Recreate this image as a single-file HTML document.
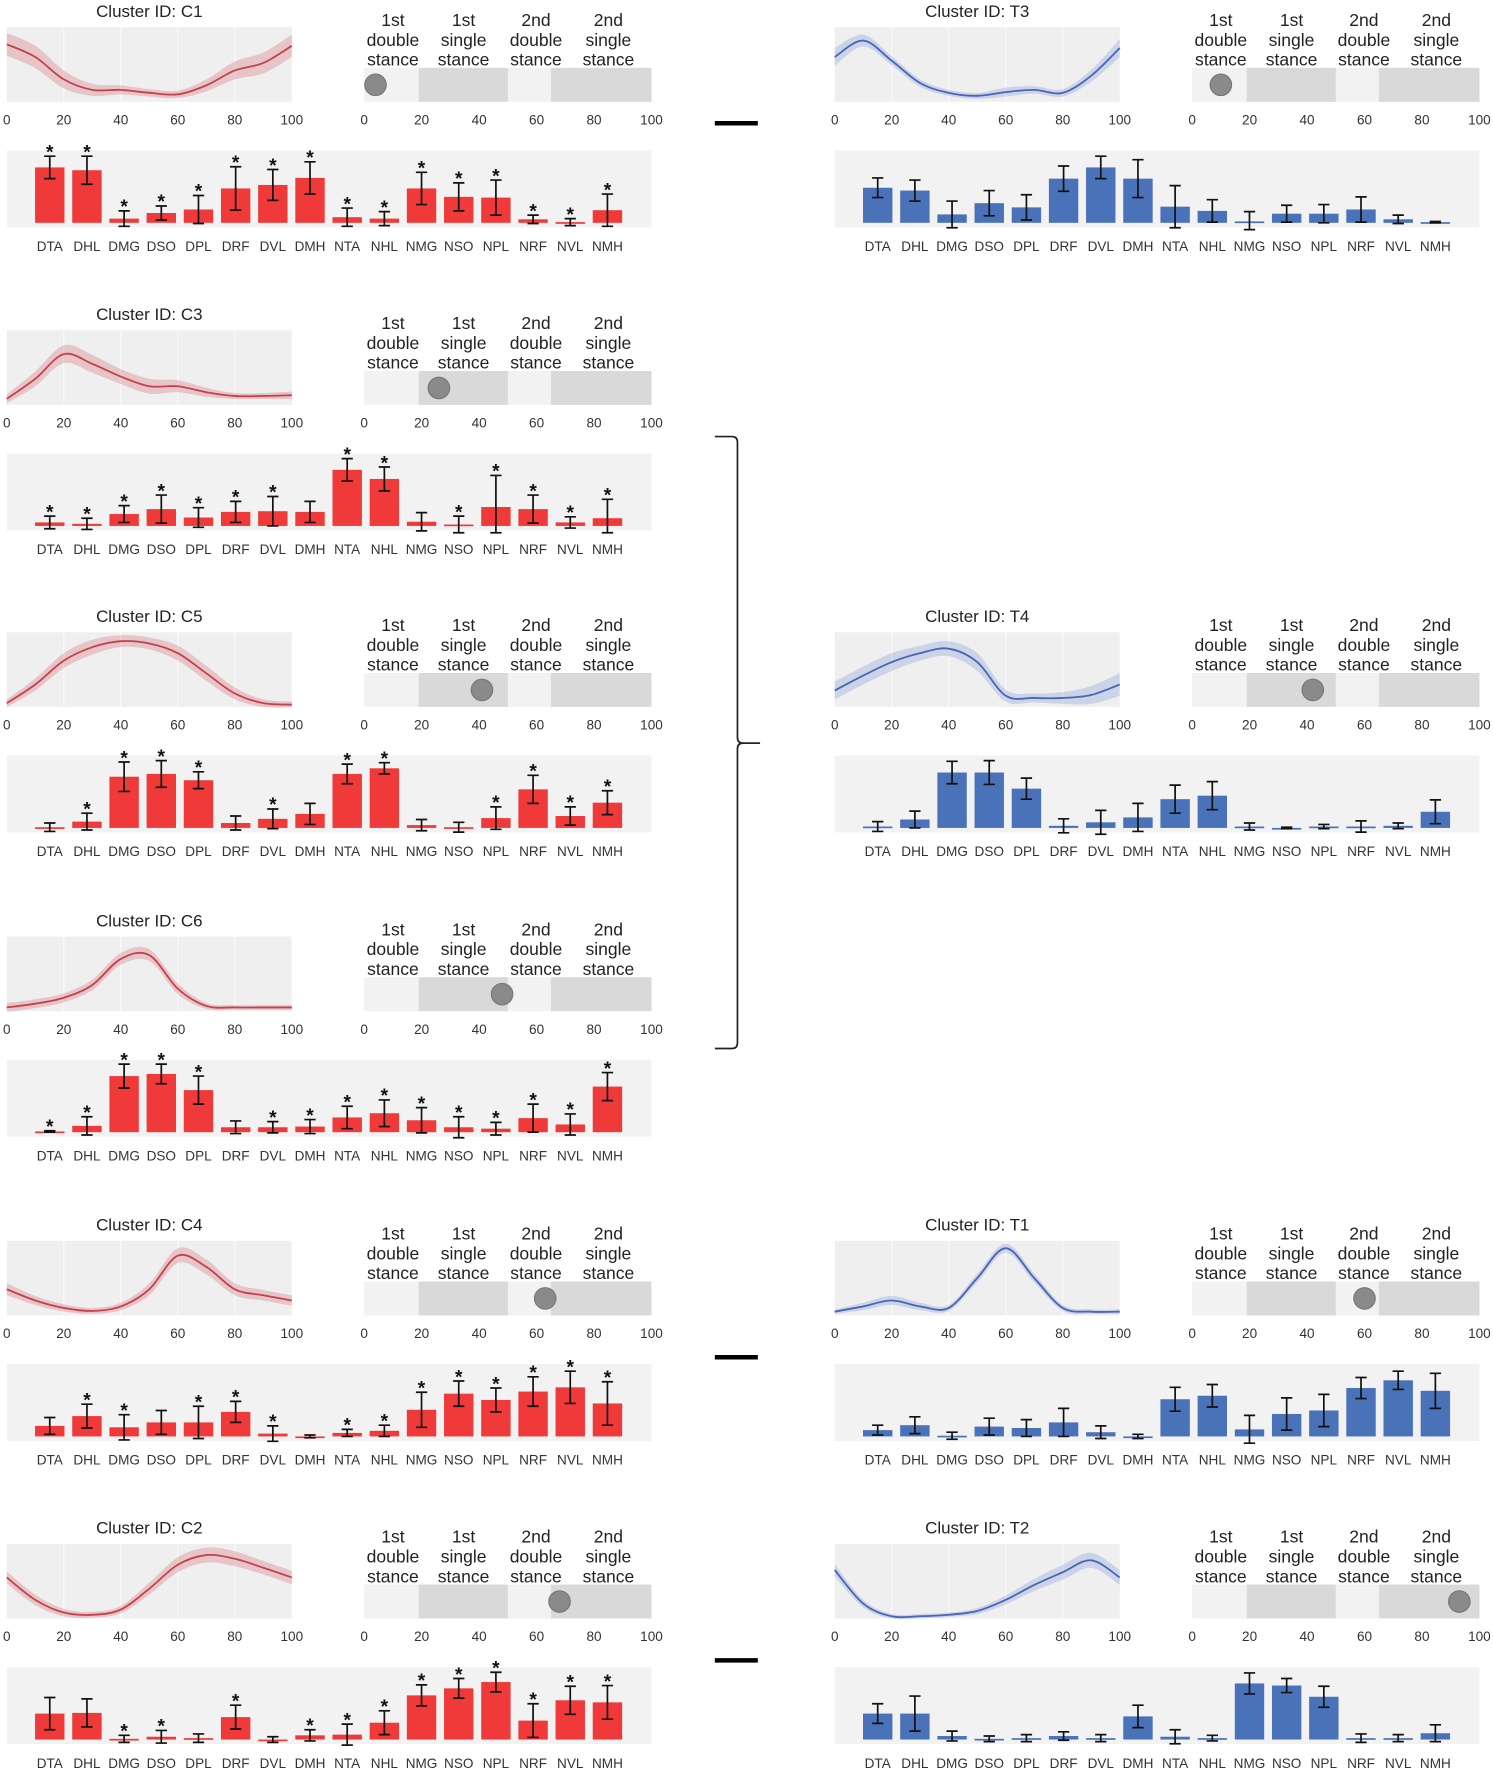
<!DOCTYPE html>
<html><head><meta charset="utf-8">
<style>
html,body{margin:0;padding:0;background:#fff;}
svg{display:block;font-family:"Liberation Sans",Arial,sans-serif;}
</style></head>
<body>
<svg id="fig" width="1493" height="1772" viewBox="0 0 1320 1566.7" preserveAspectRatio="none" xmlns="http://www.w3.org/2000/svg">
<g id="root"></g>
<path d="M632 386 L647 386 Q652 386 652 391 L652 652 Q652 657 657 657 L672 657 M657 657 Q652 657 652 662 L652 922 Q652 927 647 927 L632 927" fill="none" stroke="#222" stroke-width="1.5"/>
<line x1="632" x2="670" y1="109" y2="109" stroke="#000" stroke-width="4"/>
<line x1="632" x2="670" y1="1200" y2="1200" stroke="#000" stroke-width="4"/>
<line x1="632" x2="670" y1="1468" y2="1468" stroke="#000" stroke-width="4"/>
</svg>
<script>
const categories = ["DTA","DHL","DMG","DSO","DPL","DRF","DVL","DMH","NTA","NHL","NMG","NSO","NPL","NRF","NVL","NMH"];
const axisTicks = [0,20,40,60,80,100];
const phaseNames = [["1st","double","stance"],["1st","single","stance"],["2nd","double","stance"],["2nd","single","stance"]];
const phaseShaded = [[19,50],[65,100]];
const curveX = [0,10,20,30,40,50,60,70,80,90,100];

const c1Values=[.79,.75,.06,.14,.19,.49,.54,.64,.08,.06,.49,.37,.36,.05,.01,.18];
const c1Errors=[.16,.2,.11,.1,.2,.31,.22,.23,.13,.1,.23,.2,.25,.06,.05,.23];
const c1Stars=[1,1,1,1,1,1,1,1,1,1,1,1,1,1,1,1];
const c1Curve=[.77,.6,.3,.16,.16,.12,.1,.22,.42,.52,.75];
const c1Band=[.15,.15,.12,.08,.06,.05,.05,.08,.12,.14,.15];

const t3Values=[.5,.46,.12,.28,.22,.63,.79,.63,.23,.17,.02,.13,.13,.19,.05,.01];
const t3Errors=[.14,.15,.19,.18,.18,.18,.16,.27,.3,.16,.14,.12,.13,.18,.06,.01];
const t3Stars=[0,0,0,0,0,0,0,0,0,0,0,0,0,0,0,0];
const t3Curve=[.6,.82,.55,.25,.12,.08,.13,.16,.12,.35,.72];
const t3Band=[.12,.08,.06,.05,.04,.04,.06,.05,.05,.08,.12];

const c3Values=[.05,.03,.17,.24,.12,.2,.21,.2,.8,.67,.06,.02,.27,.24,.05,.11];
const c3Errors=[.09,.08,.12,.2,.14,.15,.21,.15,.16,.17,.13,.12,.45,.2,.08,.27];
const c3Stars=[1,1,1,1,1,1,1,0,1,1,0,1,1,1,1,1];
const c3Curve=[.08,.35,.68,.55,.38,.25,.25,.17,.12,.12,.13];
const c3Band=[.06,.1,.12,.12,.1,.1,.08,.06,.04,.04,.05];

const c5Values=[.01,.09,.73,.77,.68,.07,.13,.2,.77,.85,.04,.01,.14,.55,.17,.36];
const c5Errors=[.06,.12,.21,.19,.12,.1,.14,.15,.14,.08,.08,.07,.16,.2,.13,.17];
const c5Stars=[0,1,1,1,1,0,1,0,1,1,0,0,1,1,1,1];
const c5Curve=[.05,.3,.62,.8,.88,.85,.72,.45,.18,.05,.03];
const c5Band=[.05,.08,.1,.1,.08,.08,.1,.1,.08,.05,.04];

const t4Values=[.02,.12,.79,.79,.56,.03,.08,.15,.41,.46,.02,0,.02,.02,.03,.23];
const t4Errors=[.07,.12,.16,.17,.15,.1,.17,.2,.2,.2,.05,.01,.03,.08,.04,.17];
const t4Stars=[0,0,0,0,0,0,0,0,0,0,0,0,0,0,0,0];
const t4Curve=[.22,.42,.6,.72,.78,.6,.15,.12,.12,.16,.3];
const t4Band=[.12,.12,.12,.1,.1,.12,.08,.06,.08,.12,.15];

const c6Values=[.01,.09,.8,.83,.6,.07,.07,.08,.21,.27,.17,.07,.05,.2,.11,.65];
const c6Errors=[.01,.13,.17,.14,.2,.09,.08,.1,.16,.19,.18,.15,.09,.2,.15,.2];
const c6Stars=[1,1,1,1,1,0,1,1,1,1,1,1,1,1,1,1];
const c6Curve=[.05,.1,.18,.35,.7,.75,.3,.07,.05,.05,.05];
const c6Band=[.06,.06,.06,.07,.08,.08,.07,.04,.03,.03,.03];

const c4Values=[.15,.29,.13,.2,.2,.35,.04,0,.05,.08,.38,.61,.52,.64,.7,.47];
const c4Errors=[.12,.17,.18,.17,.23,.15,.11,.02,.05,.08,.25,.18,.17,.21,.23,.31];
const c4Stars=[0,1,1,0,1,1,1,0,1,1,1,1,1,1,1,1];
const c4Curve=[.35,.2,.1,.06,.12,.35,.8,.65,.35,.27,.2];
const c4Band=[.08,.06,.05,.04,.05,.08,.1,.1,.08,.07,.07];

const t1Values=[.09,.16,.01,.14,.12,.2,.06,0,.53,.58,.1,.32,.37,.69,.8,.65];
const t1Errors=[.07,.12,.05,.12,.12,.2,.09,.03,.17,.16,.2,.23,.23,.15,.13,.25];
const t1Stars=[0,0,0,0,0,0,0,0,0,0,0,0,0,0,0,0];
const t1Curve=[.05,.12,.2,.12,.1,.5,.9,.5,.1,.05,.05];
const t1Band=[.03,.05,.06,.05,.04,.06,.06,.06,.04,.03,.03];

const c2Values=[.37,.38,.01,.04,.02,.32,0,.06,.07,.24,.63,.73,.82,.27,.56,.53];
const c2Errors=[.23,.2,.05,.09,.06,.17,.04,.08,.15,.17,.15,.14,.14,.24,.2,.24];
const c2Stars=[0,0,1,1,0,1,0,1,1,1,1,1,1,1,1,1];
const c2Curve=[.55,.25,.08,.05,.12,.4,.72,.85,.8,.68,.55];
const c2Band=[.08,.07,.05,.04,.05,.08,.1,.1,.1,.09,.09];

const t2Values=[.37,.37,.05,.01,.02,.05,.02,.33,.04,.02,.8,.77,.61,.02,.02,.09];
const t2Errors=[.14,.25,.07,.04,.05,.06,.05,.16,.1,.04,.15,.1,.15,.06,.05,.12];
const t2Stars=[0,0,0,0,0,0,0,0,0,0,0,0,0,0,0,0];
const t2Curve=[.65,.2,.03,.03,.05,.1,.25,.45,.62,.78,.55];
const t2Band=[.08,.05,.03,.03,.03,.04,.06,.08,.1,.1,.1];

const phasePos={C1:3,T3:10,C3:26,C5:41,T4:42,C6:48,C4:63,T1:60,C2:68,T2:93};

const panels=[
 {id:"C1",col:0,row:0,values:c1Values,errors:c1Errors,stars:c1Stars,curve:c1Curve,band:c1Band},
 {id:"T3",col:1,row:0,values:t3Values,errors:t3Errors,stars:t3Stars,curve:t3Curve,band:t3Band},
 {id:"C3",col:0,row:1,values:c3Values,errors:c3Errors,stars:c3Stars,curve:c3Curve,band:c3Band},
 {id:"C5",col:0,row:2,values:c5Values,errors:c5Errors,stars:c5Stars,curve:c5Curve,band:c5Band},
 {id:"T4",col:1,row:2,values:t4Values,errors:t4Errors,stars:t4Stars,curve:t4Curve,band:t4Band},
 {id:"C6",col:0,row:3,values:c6Values,errors:c6Errors,stars:c6Stars,curve:c6Curve,band:c6Band},
 {id:"C4",col:0,row:4,values:c4Values,errors:c4Errors,stars:c4Stars,curve:c4Curve,band:c4Band},
 {id:"T1",col:1,row:4,values:t1Values,errors:t1Errors,stars:t1Stars,curve:t1Curve,band:t1Band},
 {id:"C2",col:0,row:5,values:c2Values,errors:c2Errors,stars:c2Stars,curve:c2Curve,band:c2Band},
 {id:"T2",col:1,row:5,values:t2Values,errors:t2Errors,stars:t2Stars,curve:t2Curve,band:t2Band}
];
const rowY=[0,268,535,804,1073,1341];
const colX=[0,732];

const NS="http://www.w3.org/2000/svg";
const root=document.getElementById("root");
function mk(tag,attrs,parent){const e=document.createElementNS(NS,tag);for(const k in attrs)e.setAttribute(k,attrs[k]);(parent||root).appendChild(e);return e;}
function txt(s,x,y,size,fill,parent,anchor){const t=mk("text",{x:x,y:y,"font-size":size,fill:fill,"text-anchor":anchor||"middle"},parent);t.textContent=s;return t;}
function smooth(pts){let d="M"+pts[0][0]+" "+pts[0][1];for(let i=0;i<pts.length-1;i++){const p0=pts[Math.max(0,i-1)],p1=pts[i],p2=pts[i+1],p3=pts[Math.min(pts.length-1,i+2)];const c1x=p1[0]+(p2[0]-p0[0])/6,c1y=p1[1]+(p2[1]-p0[1])/6,c2x=p2[0]-(p3[0]-p1[0])/6,c2y=p2[1]-(p3[1]-p1[1])/6;d+=" C"+c1x+" "+c1y+" "+c2x+" "+c2y+" "+p2[0]+" "+p2[1];}return d;}

panels.forEach(p=>{
  const ox=colX[p.col], oy=rowY[p.row];
  const red=p.id[0]==="C";
  const barCol=red?"#f03a3a":"#4a72b8";
  const lineCol=red?"#c8404c":"#4a64b8";
  const bandCol=red?"rgba(205,90,100,0.28)":"rgba(110,140,210,0.28)";
  const g=mk("g",{});
  
  

  const tt=txt("Cluster ID: "+p.id,ox+132,oy+15,15,"#222",g);
  
  

  const lx0=ox+6,lx1=ox+258,ly0=oy+24,ly1=oy+90;
  const xs=v=>lx0+(lx1-lx0)*v/100, ys=v=>ly1-(ly1-ly0)*v;
  const bg=mk("rect",{x:lx0,y:ly0,width:lx1-lx0,height:ly1-ly0,fill:"#efefef"},g);
  
  
  [20,40,60,80].forEach(v=>mk("line",{x1:xs(v),x2:xs(v),y1:ly0,y2:ly1,stroke:"#fafafa","stroke-width":1},g));
  const up=curveX.map((x,i)=>[xs(x),ys(Math.min(1.02,p.curve[i]+p.band[i]))]);
  const lo=curveX.map((x,i)=>[xs(x),ys(Math.max(-0.02,p.curve[i]-p.band[i]))]).reverse();
  const sl=smooth(lo);
  const band=mk("path",{d:smooth(up)+" L"+lo[0][0]+" "+lo[0][1]+sl.slice(sl.indexOf(" C"))+" Z",fill:bandCol},g);
  
  
  const ln=mk("path",{d:smooth(curveX.map((x,i)=>[xs(x),ys(p.curve[i])])),fill:"none",stroke:lineCol,"stroke-width":1.6},g);
  
  
  axisTicks.forEach(v=>{const t=txt(String(v),xs(v),oy+110,12,"#333",g);});

  const px0=ox+322,px1=ox+576,py0=oy+60,py1=oy+90;
  const pxs=v=>px0+(px1-px0)*v/100;
  const pb=mk("rect",{x:px0,y:py0,width:px1-px0,height:py1-py0,fill:"#f2f2f2"},g);
  
  
  phaseShaded.forEach(s=>{const r=mk("rect",{x:pxs(s[0]),y:py0,width:pxs(s[1])-pxs(s[0]),height:py1-py0,fill:"#d9d9d9"},g);});
  const pc=[10,34.6,59.8,85];
  phaseNames.forEach((nm,i)=>nm.forEach((w,j)=>{const t=txt(w,pxs(pc[i]),oy+23+j*17.5,15.5,"#222",g);}));
  const cx=Math.max(pxs(phasePos[p.id]),px0+10);
  const c=mk("circle",{cx:cx,cy:oy+75,r:9.5,fill:"#8a8a8a",stroke:"#777","stroke-width":1},g);
  
  
  axisTicks.forEach(v=>{const t=txt(String(v),pxs(v),oy+110,12,"#333",g);});

  const bx0=ox+6,bx1=ox+576,by0=oy+133,by1=oy+201,base=oy+197,H=62;
  const bxs=i=>ox+44+i*32.87, bys=v=>base-H*v;
  const bb=mk("rect",{x:bx0,y:by0,width:bx1-bx0,height:by1-by0,fill:"#f2f2f2"},g);
  
  
  categories.forEach((cat,i)=>{
    const v=p.values[i],e=p.errors[i],x=bxs(i);
    const r=mk("rect",{x:x-13,y:bys(v),width:26,height:Math.max(1.5,base-bys(v)),fill:barCol},g);
    
    
    const t1=bys(v+e),b1=Math.min(bys(v-e),base+6);
    const eb=mk("path",{d:"M"+x+" "+t1+" L"+x+" "+b1+" M"+(x-5)+" "+t1+" L"+(x+5)+" "+t1+" M"+(x-5)+" "+b1+" L"+(x+5)+" "+b1,stroke:"#111","stroke-width":1.5,fill:"none"},g);
    
    
    if(p.stars[i]){const s=txt("*",x,t1+2,17,"#111",g);s.setAttribute("font-weight","bold");}
    const l=txt(cat,x,oy+222,12,"#333",g);
    
    
  });
});
</script>
</body></html>
